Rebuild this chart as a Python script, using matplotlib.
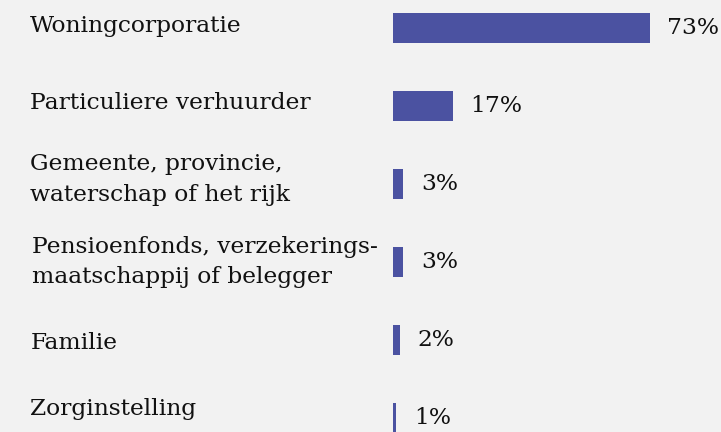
import matplotlib
matplotlib.use("Agg")
import matplotlib.pyplot as plt
import matplotlib.transforms as mtransforms

categories = [
    "Woningcorporatie",
    "Particuliere verhuurder",
    "Gemeente, provincie,\nwaterschap of het rijk",
    "Pensioenfonds, verzekerings-\nmaatschappij of belegger",
    "Familie",
    "Zorginstelling",
]
values = [73, 17, 3, 3, 2, 1]
value_labels = ["73%", "17%", "3%", "3%", "2%", "1%"]

BG = "#f2f2f2"
BAR = "#4b52a1"
FONT = "DejaVu Serif"

fig = plt.figure(figsize=(7.21, 4.32), dpi=100, facecolor=BG)
ax = fig.add_axes([0, 0, 1, 1], facecolor=BG)

ypos = list(range(len(categories)))
ax.barh(ypos, values, height=0.385, color=BAR, left=0)

ax.set_xlim(-111.6, 93.2)
ax.set_ylim(5.18, -0.359)
ax.axis("off")

trans = mtransforms.blended_transform_factory(ax.transAxes, ax.transData)
label_x = [0.042, 0.042, 0.042, 0.045, 0.042, 0.042]
label_dy = [-0.02, -0.04, -0.06, 0.0, 0.04, -0.12]
for y, cat, dy, lx in zip(ypos, categories, label_dy, label_x):
    ax.text(lx, y + dy, cat, transform=trans, ha="left", va="center",
            fontsize=16.8, family=FONT, color="#111111", linespacing=1.5)

for y, v, lab in zip(ypos, values, value_labels):
    ax.annotate(lab, xy=(v, y), xytext=(12.5, 0), textcoords="offset points",
                ha="left", va="center", fontsize=16.8, family=FONT,
                color="#111111")

fig.savefig("out.png", dpi=100, facecolor=BG)
